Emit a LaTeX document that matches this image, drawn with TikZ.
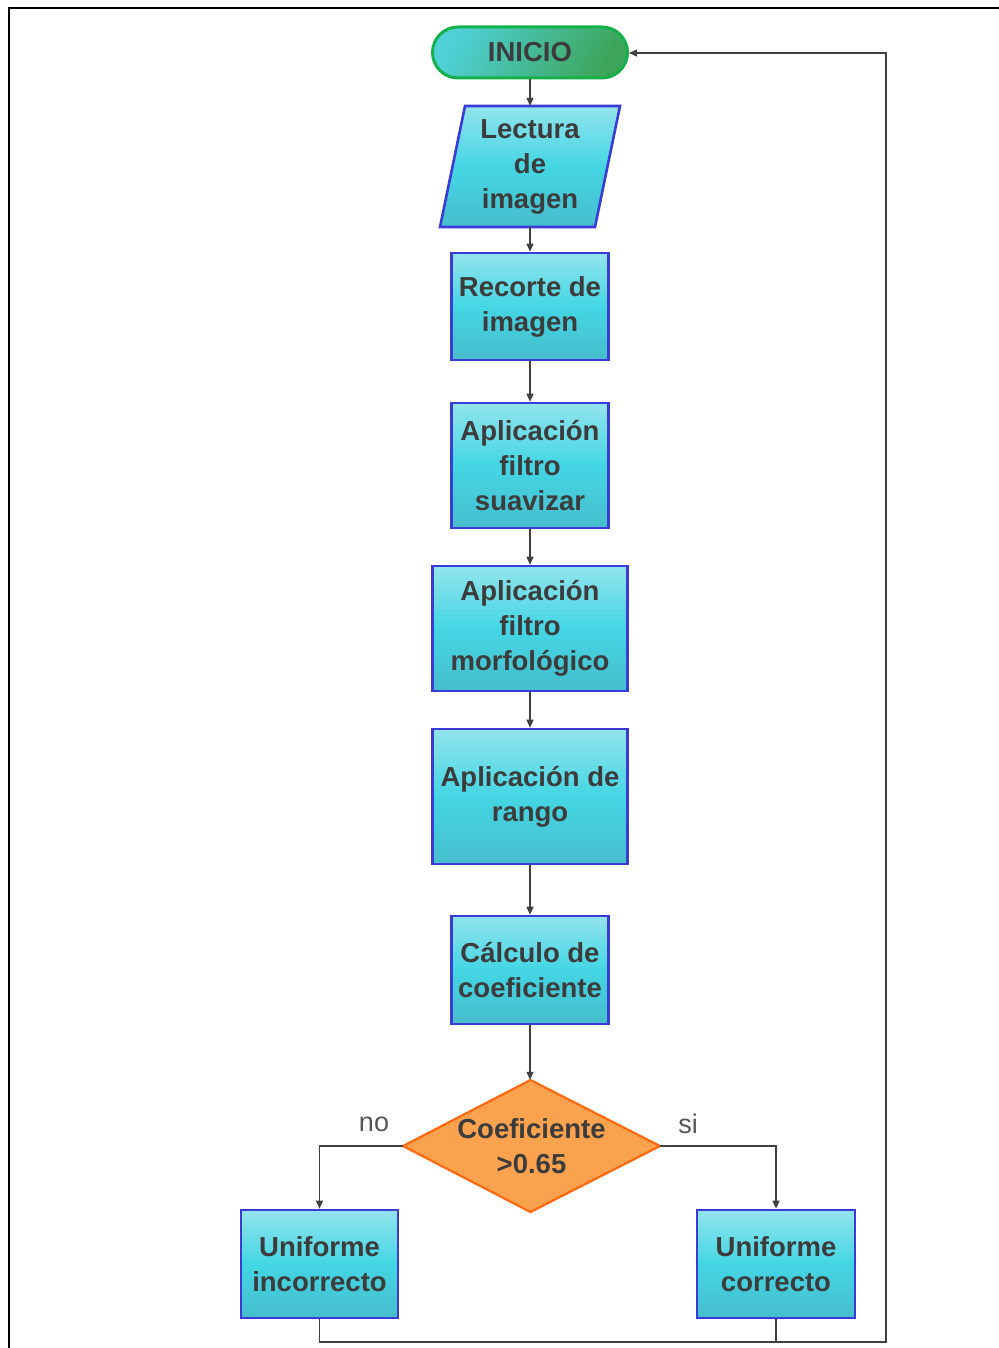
\documentclass[tikz,border=0pt]{standalone}
\usepackage{fontspec}
\setmainfont{Liberation Sans}
\usetikzlibrary{arrows.meta}

\definecolor{txt}{HTML}{3C3C3C}
\definecolor{boxT}{HTML}{92E4EC}
\definecolor{boxM}{HTML}{44D6E4}
\definecolor{boxB}{HTML}{46BDCC}
\definecolor{boxL}{HTML}{3B3BD8}
\definecolor{iniL}{HTML}{4ED0D6}
\definecolor{iniR}{HTML}{3DA55A}
\definecolor{iniE}{HTML}{14B04A}
\definecolor{decF}{HTML}{FBA24F}
\definecolor{decE}{HTML}{FF6A10}
\definecolor{wire}{HTML}{404040}
\definecolor{lbl}{HTML}{555555}

\newcommand{\boxfont}{\fontsize{27.5}{35}\selectfont\bfseries}

\tikzset{
  proc/.style={rectangle, draw=boxL, line width=2.6pt,
    top color=boxT, bottom color=boxB, middle color=boxM,
    inner sep=0pt, align=center, font=\boxfont, text=txt},
  plain/.style={rectangle, inner sep=0pt, align=center, font=\boxfont, text=txt},
  wireline/.style={draw=wire, line width=1.2pt},
  flow/.style={wireline, -{Triangle[length=8pt,width=7pt]}},
  branchlbl/.style={font=\fontsize{27}{30}\selectfont, text=lbl, inner sep=0pt}
}

\begin{document}
\begin{tikzpicture}[x=1pt,y=-1pt]
  \useasboundingbox (0,0) rectangle (998,1348);

  % page frame
  \draw[line width=2pt, black] (9,1360) -- (9,8) -- (1010,8);

  % start terminal
  \node[rounded corners=25.5pt, draw=iniE, line width=3pt,
        left color=iniL, right color=iniR, shading angle=60,
        minimum width=195pt, minimum height=51pt, inner sep=0pt,
        font=\boxfont, text=txt] (ini) at (530,52.5) {INICIO};

  % input parallelogram
  \path[draw=boxL, line width=2.6pt, top color=boxT, bottom color=boxB, middle color=boxM]
    (465,106) -- (620,106) -- (595,227) -- (440,227) -- cycle;
  \node[plain, minimum width=180pt, minimum height=121pt] (lect) at (530,166.5)
    {Lectura\\de\\imagen};

  % process steps
  \node[proc, minimum width=157pt, minimum height=107pt] (rec) at (530,306.5)
    {Recorte de\\imagen};
  \node[proc, minimum width=157pt, minimum height=125pt] (suav) at (530,465.5)
    {Aplicación\\filtro\\suavizar};
  \node[proc, minimum width=195pt, minimum height=125pt] (morf) at (530,628.5)
    {Aplicación\\filtro\\morfológico};
  \node[proc, minimum width=195pt, minimum height=135pt] (rango) at (530,796.5)
    {Aplicación de\\rango};
  \node[proc, minimum width=157pt, minimum height=108pt] (calc) at (530,970)
    {Cálculo de\\coeficiente};

  % decision
  \path[draw=decE, line width=2.2pt, fill=decF]
    (530.5,1080) -- (660,1146) -- (530.5,1212) -- (403,1146) -- cycle;
  \node[plain, minimum width=257pt, minimum height=132pt] (dec) at (531.5,1146)
    {Coeficiente\\>0.65};

  % outcomes
  \node[proc, minimum width=157pt, minimum height=108pt] (inc) at (319.5,1264)
    {Uniforme\\incorrecto};
  \node[proc, minimum width=158pt, minimum height=108pt] (cor) at (776,1264)
    {Uniforme\\correcto};

  % branch labels
  \node[branchlbl] (lno) at (374,1124) {no};
  \node[branchlbl] (lsi) at (688,1124) {si};

  % main chain
  \draw[flow] (ini.south) -- (ini.south |- lect.north);
  \draw[flow] (lect.south) -- (rec.north);
  \draw[flow] (rec.south) -- (suav.north);
  \draw[flow] (suav.south) -- (morf.north);
  \draw[flow] (morf.south) -- (rango.north);
  \draw[flow] (rango.south) -- (calc.north);
  \draw[flow] (calc.south) -- (calc.south |- dec.north);

  % decision branches
  \draw[flow] (dec.west) -| (inc.north);
  \draw[flow] (dec.east) -| (cor.north);

  % loop back to start
  \coordinate (bl) at (886,1342);
  \coordinate (tr) at (886,53);
  \draw[wireline] (cor.south) -- (cor.south |- bl);
  \draw[flow] (inc.south) |- (bl) -- (tr) -- (ini.east |- tr);
\end{tikzpicture}
\end{document}
